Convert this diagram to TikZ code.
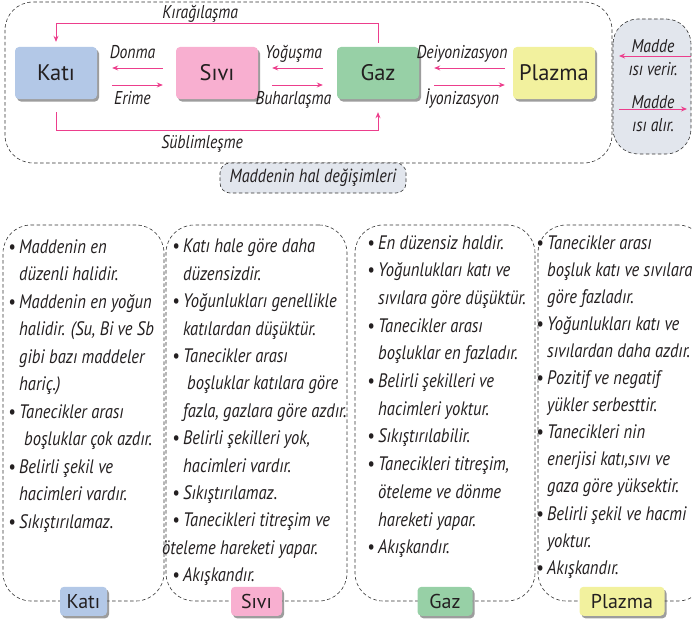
\documentclass[tikz,border=0pt]{standalone}
\usepackage{fontspec}
\setmainfont{PT Sans}
\newfontfamily\darfont[FakeStretch=0.85]{PT Sans}
\usetikzlibrary{arrows.meta,shadows}
\definecolor{katirenk}{RGB}{179,200,231}
\definecolor{sivirenk}{RGB}{248,175,208}
\definecolor{gazrenk}{RGB}{151,208,166}
\definecolor{plazmarenk}{RGB}{242,241,158}
\definecolor{okrenk}{RGB}{236,62,140}
\definecolor{gricerceve}{RGB}{226,230,237}
\definecolor{yazirenk}{RGB}{35,31,32}
\newcommand{\bulet}{\makebox[11pt][l]{\textbullet}}
\newcommand{\girinti}{\hspace*{11pt}}
\tikzset{
  hal/.style={rounded corners=4pt, fill=#1, text=yazirenk, inner sep=0pt,
    drop shadow={shadow xshift=2pt, shadow yshift=-2.5pt, opacity=0.55, fill=black!70}},
  ok/.style={draw=okrenk, line width=0.9pt, -{Stealth[length=6pt,width=5pt]}},
  kesik/.style={draw=black!80, dash pattern=on 3.5pt off 2.5pt, line width=0.6pt},
  yazi/.style={font=\darfont\itshape\fontsize{18.5}{23}\selectfont, text=yazirenk, inner sep=0pt},
  ustyazi/.style={yazi, midway, anchor=base, yshift=9.5pt, xshift=-4pt},
  altyazi/.style={yazi, midway, anchor=base, yshift=-19pt, xshift=-4pt},
  liste/.style={yazi, align=left, anchor=north west, font=\darfont\itshape\fontsize{19.5}{#1}\selectfont},
  kutu/.style={kesik, rounded corners=28pt, inner sep=0pt, minimum height=376pt},
}
\begin{document}
\begin{tikzpicture}[x=1pt, y=-1pt]
  \useasboundingbox (0,0) rectangle (692,634);

  % hal degisimleri cercevesi
  \draw[kesik, rounded corners=28pt] (5,2) rectangle (612,163);
  \draw[kesik, fill=gricerceve, rounded corners=25pt] (613,19) rectangle (691,154);

  % haller
  \node[hal=katirenk, minimum width=82pt, minimum height=52pt, font=\fontsize{22.5}{26}\selectfont] (kati) at (56,73) {Katı};
  \node[hal=sivirenk, minimum width=82pt, minimum height=52pt, font=\fontsize{22.5}{26}\selectfont] (sivi) at (217,73) {Sıvı};
  \node[hal=gazrenk, minimum width=82pt, minimum height=52pt, font=\fontsize{22.5}{26}\selectfont] (gaz) at (378,73) {Gaz};
  \node[hal=plazmarenk, minimum width=82pt, minimum height=52pt, font=\fontsize{22.5}{26}\selectfont] (plazma) at (554,73) {Plazma};

  % gecisler
  \draw[ok, shorten <=13pt, shorten >=15pt] ([yshift=5pt]sivi.west) -- node[ustyazi] {Donma} ([yshift=5pt]kati.east);
  \draw[ok, shorten <=15pt, shorten >=13pt] ([yshift=-12pt]kati.east) -- node[altyazi] {Erime} ([yshift=-12pt]sivi.west);
  \draw[ok, shorten <=14pt, shorten >=14pt] ([yshift=5pt]gaz.west) -- node[ustyazi] {Yoğuşma} ([yshift=5pt]sivi.east);
  \draw[ok, shorten <=14pt, shorten >=14pt] ([yshift=-12pt]sivi.east) -- node[altyazi] {Buharlaşma} ([yshift=-12pt]gaz.west);
  \draw[ok, shorten <=8pt, shorten >=15pt] ([yshift=5pt]plazma.west) -- node[ustyazi] {Deiyonizasyon} ([yshift=5pt]gaz.east);
  \draw[ok, shorten <=15pt, shorten >=8pt] ([yshift=-12pt]gaz.east) -- node[altyazi] {İyonizasyon} ([yshift=-12pt]plazma.west);
  \draw[ok, shorten <=4pt, shorten >=5pt] (gaz.north) -- ++(0,-23)
    -| node[yazi, pos=0.276, anchor=base, yshift=5pt] {Kırağılaşma} (kati.north);
  \draw[ok, shorten <=13pt, shorten >=13pt] (kati.south) -- ++(0,31)
    -| node[yazi, pos=0.227, anchor=base, yshift=-18.5pt] {Süblimleşme} (gaz.south);

  % isi
  \node[yazi, align=center, anchor=north] (verir) at (653,39) {Madde\\ısı verir.};
  \node[yazi, align=center, anchor=north] (alir) at (653,95) {Madde\\ısı alır.};
  \coordinate (verirsag) at (691,56);
  \coordinate (verirsol) at (619,56);
  \coordinate (alirsol) at (619,109);
  \coordinate (alirsag) at (687,109);
  \draw[ok] (verirsag) -- (verirsol);
  \draw[ok] (alirsol) -- (alirsag);

  \node[yazi, kesik, fill=gricerceve, rounded corners=10pt, minimum width=186pt, minimum height=30pt,
    font=\darfont\itshape\fontsize{19}{22}\selectfont] (baslik) at (313,178) {Maddenin hal değişimleri};

  % ozellikler
  \node[kutu, minimum width=161pt] (katikutu) at (83.5,413) {};
  \node[kutu, minimum width=181pt] (sivikutu) at (256.5,413) {};
  \node[kutu, minimum width=180pt] (gazkutu) at (445,413) {};
  \node[kutu, minimum width=168pt] (plazmakutu) at (622,413) {};

  \node[liste=27.5] (katiliste) at (8,239) {\bulet Maddenin en\\ \girinti düzenli halidir.\\
    \bulet Maddenin en yoğun\\ \girinti halidir. (Su, Bi ve Sb\\ \girinti gibi bazı maddeler\\ \girinti hariç.)\\
    \bulet Tanecikler arası\\ \hspace*{16pt}boşluklar çok azdır.\\
    \bulet Belirli şekil ve\\ \girinti hacimleri vardır.\\
    \bulet Sıkıştırılamaz.};
  \node[liste=27.4] (siviliste) at (172,239) {\bulet Katı hale göre daha\\ \girinti düzensizdir.\\
    \bulet Yoğunlukları genellikle\\ \girinti katılardan düşüktür.\\
    \bulet Tanecikler arası\\ \hspace*{15pt}boşluklar katılara göre\\ \girinti fazla, gazlara göre azdır.\\
    \bulet Belirli şekilleri yok,\\ \girinti hacimleri vardır.\\
    \bulet Sıkıştırılamaz.\\
    \bulet Tanecikleri titreşim ve\\ \hspace*{-10pt}öteleme hareketi yapar.\\
    \bulet Akışkandır.};
  \node[liste=27.7] (gazliste) at (367,235) {\bulet En düzensiz haldir.\\
    \bulet Yoğunlukları katı ve\\ \girinti sıvılara göre düşüktür.\\
    \bulet Tanecikler arası\\ \girinti boşluklar en fazladır.\\
    \bulet Belirli şekilleri ve\\ \girinti hacimleri yoktur.\\
    \bulet Sıkıştırılabilir.\\
    \bulet Tanecikleri titreşim,\\ \girinti öteleme ve dönme\\ \girinti hareketi yapar.\\
    \bulet Akışkandır.};
  \node[liste=27.1] (plazmaliste) at (536,235) {\bulet Tanecikler arası\\ \girinti boşluk katı ve sıvılara\\ \girinti göre fazladır.\\
    \bulet Yoğunlukları katı ve\\ \girinti sıvılardan daha azdır.\\
    \bulet Pozitif ve negatif\\ \girinti yükler serbesttir.\\
    \bulet Tanecikleri nin\\ \girinti enerjisi katı,sıvı ve\\ \girinti gaza göre yüksektir.\\
    \bulet Belirli şekil ve hacmi\\ \girinti yoktur.\\
    \bulet Akışkandır.};

  \node[hal=katirenk, minimum width=47pt, minimum height=29pt, font=\fontsize{20}{22}\selectfont] (katietiket) at (katikutu.south) {Katı};
  \node[hal=sivirenk, minimum width=51pt, minimum height=29pt, font=\fontsize{20}{22}\selectfont] (sivietiket) at (sivikutu.south) {Sıvı};
  \node[hal=gazrenk, minimum width=55pt, minimum height=29pt, font=\fontsize{20}{22}\selectfont] (gazetiket) at (gazkutu.south) {Gaz};
  \node[hal=plazmarenk, minimum width=85pt, minimum height=29pt, font=\fontsize{20}{22}\selectfont] (plazmaetiket) at (plazmakutu.south) {Plazma};
\end{tikzpicture}
\end{document}
